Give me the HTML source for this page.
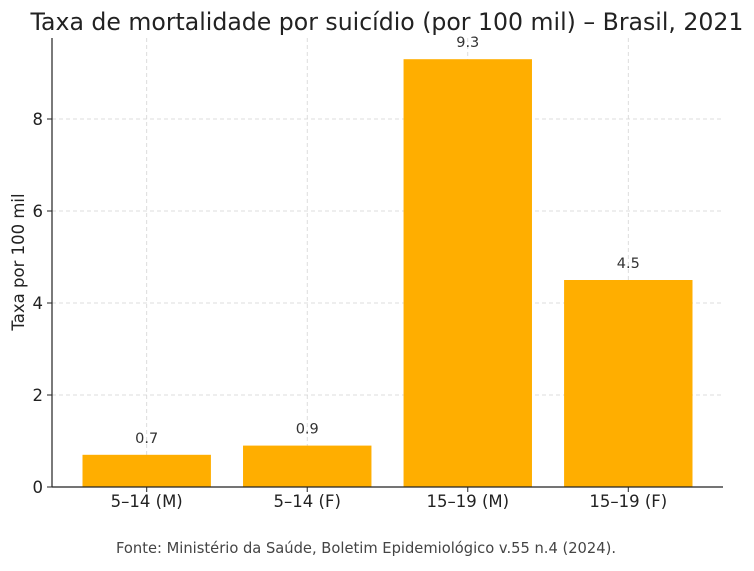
<!DOCTYPE html>
<html><head><meta charset="utf-8"><style>
html,body{margin:0;padding:0;background:#fff;}
svg text{font-family:"DejaVu Sans","Liberation Sans",sans-serif;}
</style></head><body>
<svg id="chart" width="754" height="566" xmlns="http://www.w3.org/2000/svg">
<text x="387" y="30" text-anchor="middle" font-size="23.6" fill="#222">Taxa de mortalidade por suicídio (por 100 mil) – Brasil, 2021</text>
<g id="grid"></g>
<g id="bars"></g>
<g id="axes"></g>
<text transform="translate(24,262) rotate(-90)" text-anchor="middle" font-size="16.5" fill="#222">Taxa por 100 mil</text>
<text x="366" y="553" text-anchor="middle" font-size="14.7" fill="#444">Fonte: Ministério da Saúde, Boletim Epidemiológico v.55 n.4 (2024).</text>
</svg>
<script>
const categories = ["5–14 (M)", "5–14 (F)", "15–19 (M)", "15–19 (F)"];
const values = [0.7, 0.9, 9.3, 4.5];
const valueLabels = ["0.7", "0.9", "9.3", "4.5"];
const yTicks = [0, 2, 4, 6, 8];

const NS = "http://www.w3.org/2000/svg";
const L = 52, R = 723, T = 38, B = 487;
const yMax = (B - T) / 46;
const xMin = -0.59, xMax = categories.length - 1 + 0.59;
const x = v => L + (v - xMin) / (xMax - xMin) * (R - L);
const y = v => B - v / yMax * (B - T);
function mk(tag, attrs, parent) { const e = document.createElementNS(NS, tag); for (const k in attrs) e.setAttribute(k, attrs[k]); parent.appendChild(e); return e; }
const grid = document.getElementById("grid"), bars = document.getElementById("bars"), axes = document.getElementById("axes");

yTicks.forEach(t => {
  const g = mk("line", {x1: L, x2: R, y1: y(t), y2: y(t), stroke: "#d4d4d4", "stroke-dasharray": "4,3", "stroke-width": 0.8}, grid);
  
  
  const tk = mk("line", {x1: L - 5, x2: L, y1: y(t), y2: y(t), stroke: "#222"}, axes);
  
  
  const lb = mk("text", {x: L - 9, y: y(t) + 6, "text-anchor": "end", "font-size": 16.5, fill: "#222"}, axes);
  lb.textContent = t;
  
  
});
categories.forEach((c, i) => {
  const g = mk("line", {x1: x(i), x2: x(i), y1: T, y2: B, stroke: "#d4d4d4", "stroke-dasharray": "4,3", "stroke-width": 0.8}, grid);
  
  
  const w = (x(0.4) - x(-0.4));
  const r = mk("rect", {x: x(i) - w / 2, y: y(values[i]), width: w, height: B - y(values[i]), fill: "#FFAE00"}, bars);
  
  
  const vl = mk("text", {x: x(i), y: y(values[i]) - 12, "text-anchor": "middle", "font-size": 14.5, fill: "#333"}, bars);
  vl.textContent = valueLabels[i];
  
  
  const tk = mk("line", {x1: x(i), x2: x(i), y1: B, y2: B + 5, stroke: "#222"}, axes);
  
  
  const lb = mk("text", {x: x(i), y: B + 20, "text-anchor": "middle", "font-size": 16.5, fill: "#222"}, axes);
  lb.textContent = c;
  
  
});
const ax1 = mk("line", {x1: L, x2: L, y1: T, y2: B, stroke: "#222", "stroke-width": 1.2}, axes);


const ax2 = mk("line", {x1: L, x2: R, y1: B, y2: B, stroke: "#222", "stroke-width": 1.2}, axes);


</script>
</body></html>
